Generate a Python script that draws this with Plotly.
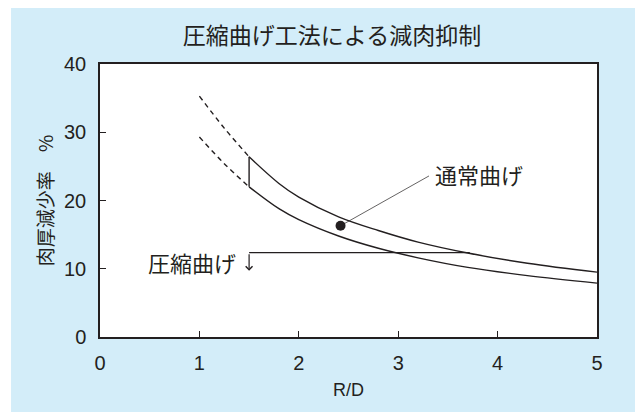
import plotly.graph_objects as go

# ---- data ----
normal_dash_x = [1.0, 1.25, 1.5]
normal_dash_y = [35.3, 30.6, 26.4]
normal_x = [1.5, 1.8, 2.0, 2.4, 2.8, 3.2, 3.7, 4.3, 5.0]
normal_y = [26.4, 22.5, 20.5, 17.6, 15.6, 13.9, 12.3, 10.8, 9.5]

comp_dash_x = [1.0, 1.25, 1.5]
comp_dash_y = [29.3, 25.4, 22.0]
comp_x = [1.5, 1.8, 2.0, 2.4, 2.8, 3.2, 3.7, 4.3, 5.0]
comp_y = [22.0, 18.8, 17.2, 14.8, 13.0, 11.6, 10.2, 9.0, 7.9]

range_x = [1.5, 1.5]
range_y = [22.0, 26.4]

dot_x = [2.42]
dot_y = [16.3]
leader_x = [2.42, 3.31]
leader_y = [16.3, 23.6]

bracket_x = [1.5, 3.72]
bracket_y = [12.35, 12.35]
arrow_tip = (1.5, 9.7)

x_ticks = [0, 1, 2, 3, 4, 5]
y_ticks = [0, 10, 20, 30, 40]

title_text = "圧縮曲げ工法による減肉抑制"
xlabel = "R/D"
ylabel = "肉厚減少率　%"
label_normal = "通常曲げ"
label_comp = "圧縮曲げ"

INK = "#231f20"
BLUE = "#d3edf9"
CJK = "Noto Sans CJK JP"
LAT = "Liberation Sans, Arial, sans-serif"

fig = go.Figure()

line = dict(color=INK, width=1.4)
dline = dict(color=INK, width=1.4, dash="5px,4px")

fig.add_trace(go.Scatter(x=normal_dash_x, y=normal_dash_y, mode="lines", line=dline, line_shape="spline", hoverinfo="skip"))
fig.add_trace(go.Scatter(x=comp_dash_x, y=comp_dash_y, mode="lines", line=dline, line_shape="spline", hoverinfo="skip"))
fig.add_trace(go.Scatter(x=normal_x, y=normal_y, mode="lines", line=line, line_shape="spline", name=label_normal))
fig.add_trace(go.Scatter(x=comp_x, y=comp_y, mode="lines", line=line, line_shape="spline", name=label_comp))
fig.add_trace(go.Scatter(x=range_x, y=range_y, mode="lines", line=line, hoverinfo="skip"))
fig.add_trace(go.Scatter(x=bracket_x, y=bracket_y, mode="lines", line=dict(color=INK, width=1.2), hoverinfo="skip"))
fig.add_trace(go.Scatter(x=leader_x, y=leader_y, mode="lines", line=dict(color=INK, width=0.7), hoverinfo="skip"))
fig.add_trace(go.Scatter(x=dot_x, y=dot_y, mode="markers", marker=dict(color=INK, size=10), hoverinfo="skip"))

# background panel and white plot area
fig.add_shape(type="rect", xref="paper", yref="paper", x0=-0.179, x1=1.3, y0=-0.5, y1=1.4,
              fillcolor=BLUE, line=dict(width=0), layer="below")
fig.add_shape(type="rect", xref="x domain", yref="y domain", x0=0, x1=1, y0=0, y1=1,
              fillcolor="white", line=dict(width=0), layer="below")

fig.add_annotation(x=arrow_tip[0], y=arrow_tip[1], ax=bracket_x[0], ay=bracket_y[0],
                   xref="x", yref="y", axref="x", ayref="y", text="",
                   showarrow=True, arrowhead=4, arrowsize=1.1, arrowwidth=1.2, arrowcolor=INK)
fig.add_annotation(x=1.39, y=11.06, xref="x", yref="y", text=label_comp, showarrow=False,
                   xanchor="right", yanchor="middle", font=dict(family=CJK, size=22, color=INK))
fig.add_annotation(x=3.35, y=23.9, xref="x", yref="y", text=label_normal, showarrow=False,
                   xanchor="left", yanchor="middle", font=dict(family=CJK, size=22, color=INK))

axis_common = dict(showline=True, linecolor=INK, linewidth=1.5, mirror=True, ticks="inside",
                   ticklen=6, tickwidth=1.2, tickcolor=INK, showgrid=False, zeroline=False,
                   tickfont=dict(family=LAT, size=20, color=INK))

fig.update_layout(
    width=635, height=404,
    margin=dict(l=92, r=46, t=56, b=75),
    paper_bgcolor="white", plot_bgcolor="white",
    showlegend=False,
    title=dict(text=title_text, x=324 / 635, xref="container", xanchor="center",
               y=1 - 28 / 404, yref="container", yanchor="middle",
               font=dict(family=CJK, size=23, color=INK)),
    xaxis=dict(range=[0, 5], tickvals=x_ticks, ticklabelstandoff=7,
               title=dict(text=xlabel, standoff=11, font=dict(family=LAT, size=18, color=INK)),
               **axis_common),
    yaxis=dict(range=[0, 40], tickvals=y_ticks, ticklabelstandoff=8,
               title=dict(text=ylabel, standoff=5, font=dict(family=CJK, size=19, color=INK)),
               **axis_common),
)

fig.write_html("out.html")
